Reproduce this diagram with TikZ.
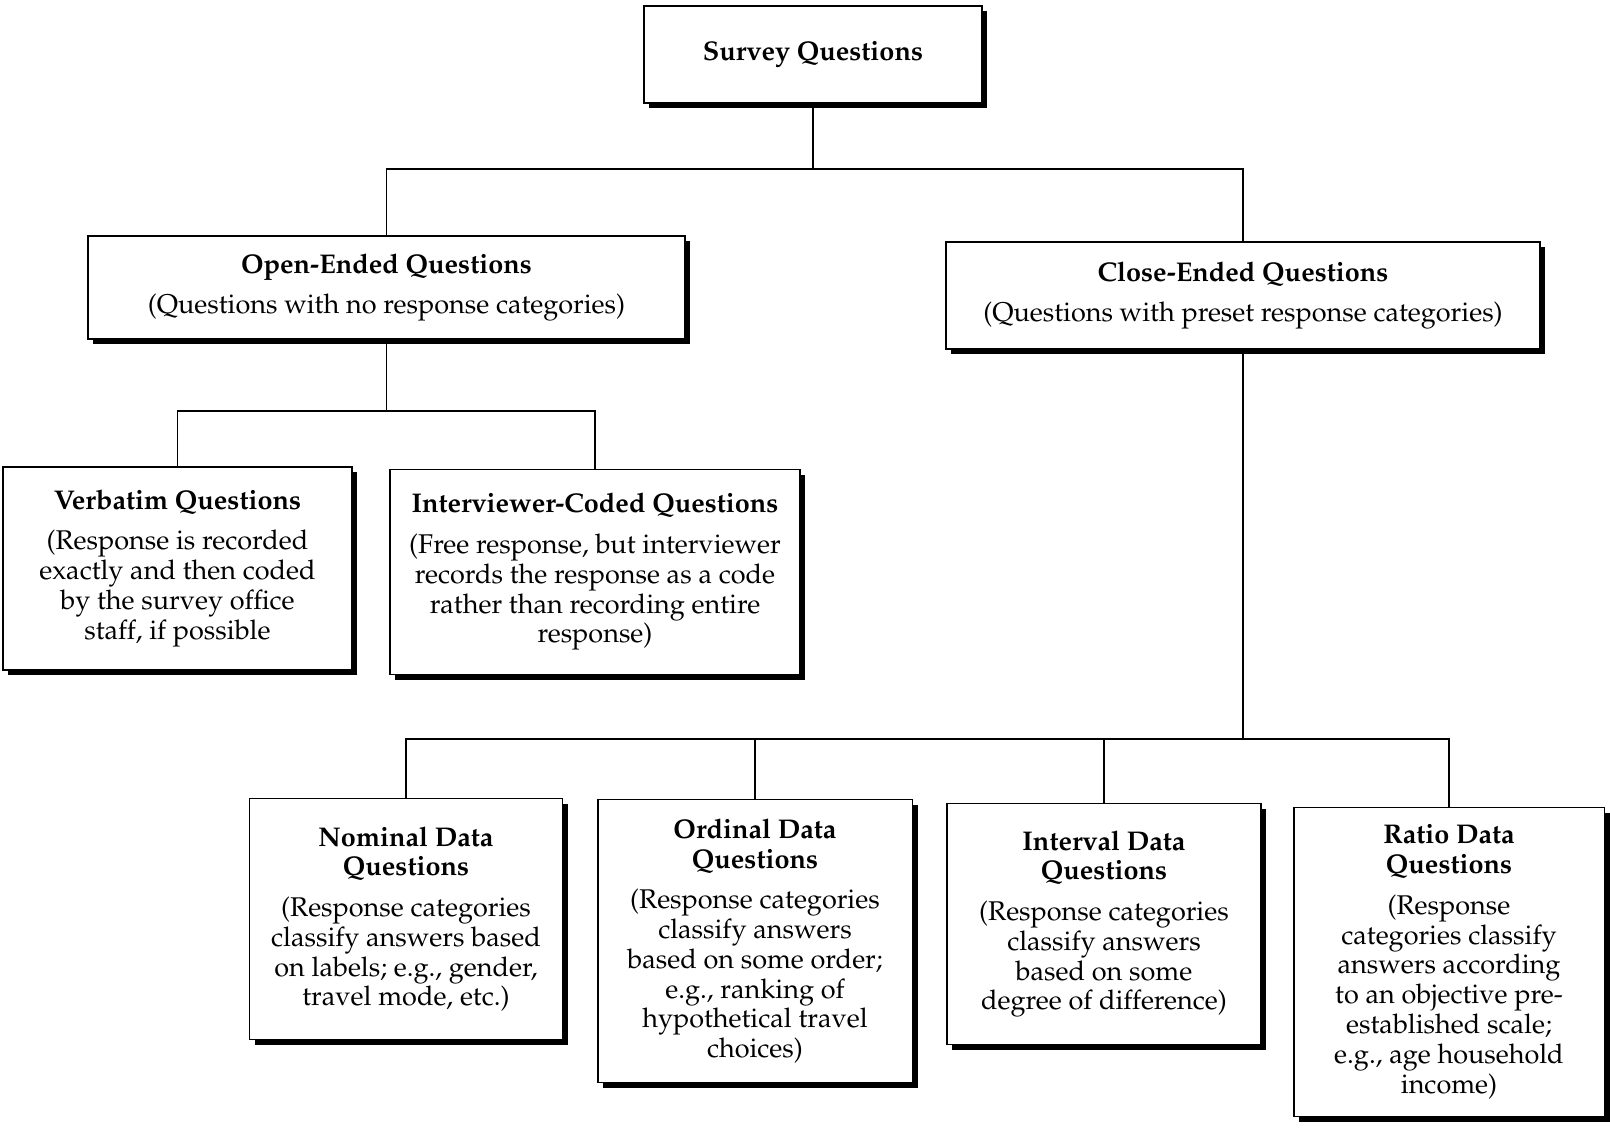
\documentclass[tikz,border=0pt]{standalone}
\usepackage[T1]{fontenc}
\usepackage{mathpazo}
\usetikzlibrary{shadows}

\begin{document}
\begin{tikzpicture}[x=0.02cm, y=-0.02cm,
    qbox/.style={draw, line width=1.1pt, fill=white, align=center, inner sep=0pt,
      font=\fontsize{15.4}{17}\selectfont,
      drop shadow={shadow xshift=3pt, shadow yshift=-3pt, opacity=1, fill=black}},
    link/.style={line width=1.1pt}]
  \useasboundingbox (0,0) rectangle (1610,1131);
  % top level
  \node[qbox, minimum width=6.76cm, minimum height=1.94cm] (survey) at (813,54.5)
    {\textbf{Survey Questions}};
  % second level
  \node[qbox, minimum width=11.94cm, minimum height=2.06cm] (open) at (386.5,287.5)
    {\textbf{Open-Ended Questions}\\[6pt](Questions with no response categories)};
  \node[qbox, minimum width=11.88cm, minimum height=2.14cm] (close) at (1243,295.5)
    {\textbf{Close-Ended Questions}\\[6pt](Questions with preset response categories)};
  % open-ended children
  \node[qbox, minimum width=6.98cm, minimum height=4.06cm] (verbatim) at (177.5,568.5)
    {\textbf{Verbatim Questions}\\[6pt](Response is recorded\\exactly and then coded\\by the survey office\\staff, if possible};
  \node[qbox, minimum width=8.2cm, minimum height=4.1cm] (coded) at (595,572)
    {\textbf{Interviewer-Coded Questions}\\[6pt](Free response, but interviewer\\records the response as a code\\rather than recording entire\\response)};
  % close-ended children
  \node[qbox, minimum width=6.26cm, minimum height=4.82cm] (nominal) at (406,919)
    {\textbf{Nominal Data}\\\textbf{Questions}\\[6pt](Response categories\\classify answers based\\on labels; e.g., gender,\\travel mode, etc.)};
  \node[qbox, minimum width=6.3cm, minimum height=5.66cm] (ordinal) at (755,941)
    {\textbf{Ordinal Data}\\\textbf{Questions}\\[6pt](Response categories\\classify answers\\based on some order;\\e.g., ranking of\\hypothetical travel\\choices)};
  \node[qbox, minimum width=6.28cm, minimum height=4.82cm] (interval) at (1104,924)
    {\textbf{Interval Data}\\\textbf{Questions}\\[6pt](Response categories\\classify answers\\based on some\\degree of difference)};
  \node[qbox, minimum width=6.22cm, minimum height=6.18cm] (ratio) at (1449,962)
    {\textbf{Ratio Data}\\\textbf{Questions}\\[6pt](Response\\categories classify\\answers according\\to an objective pre-\\established scale;\\e.g., age household\\income)};
  % junctions
  \coordinate (j1) at (813,169);
  \coordinate (j2) at (386.5,411);
  \coordinate (j3) at (1243,739);
  % connectors
  \draw[link] (survey) -- (j1);
  \draw[link] (open.north) |- (j1) -| (close.north);
  \draw[link] (open) -- (j2);
  \draw[link] (verbatim.north) |- (j2) -| (coded.north);
  \draw[link] (close) -- (j3);
  \draw[link] (nominal.north) |- (j3) -| (ratio.north);
  \draw[link] (ordinal.north) |- (j3);
  \draw[link] (interval.north) |- (j3);
\end{tikzpicture}
\end{document}
